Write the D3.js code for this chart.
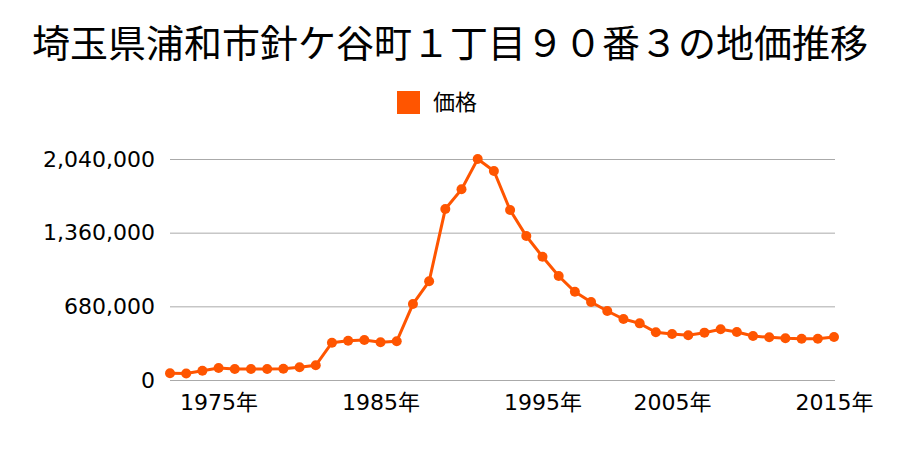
<!DOCTYPE html>
<html><head><meta charset="utf-8">
<script src="https://cdn.jsdelivr.net/npm/d3@7"></script>
<style>body{margin:0;background:#fff;} svg{display:block;}</style>
</head><body>
<svg id="chart" width="900" height="450"></svg>
<script>
const title = "埼玉県浦和市針ケ谷町１丁目９０番３の地価推移";
const seriesName = "価格";
const years = [1972,1973,1974,1975,1976,1977,1978,1979,1980,1981,1982,1983,1984,1985,1986,1987,1988,1989,1990,1991,1992,1993,1994,1995,1996,1997,1998,1999,2000,2001,2002,2005,2006,2007,2008,2009,2010,2011,2012,2013,2014,2015];
const prices = [62000,60000,86000,111000,101000,101000,101000,104000,117000,136000,344000,363000,369000,348000,357000,701000,911000,1578000,1760000,2040000,1929000,1569000,1329000,1138000,960000,815000,720000,637000,563000,523000,440000,425000,413000,437000,468000,443000,406000,394000,385000,381000,381000,397000];
const yTicks = [0,680000,1360000,2040000];
const xLabelYears = [1975,1985,1995,2005,2015];

const color = "#ff5500";
const font = "'Noto Sans CJK JP','Noto Sans',sans-serif";
const numFont = "'DejaVu Sans','Noto Sans CJK JP',sans-serif";
const svg = d3.select("#chart");

const x = d3.scalePoint().domain(years).range([170, 834]);
const y = d3.scaleLinear().domain([0, 2040000]).range([380, 159]);

svg.append("text").attr("x", 450).attr("y", 57).attr("text-anchor","middle")
  .attr("font-family", font).attr("font-size", 38).attr("fill","#000").text(title);

// legend
svg.append("rect").attr("x", 397).attr("y", 91).attr("width", 23).attr("height", 23).attr("fill", color);
svg.append("text").attr("x", 433).attr("y", 110).attr("font-family", font).attr("font-size", 22).attr("fill","#000").text(seriesName);

// y axis gridlines + labels
const yAxis = d3.axisLeft(y).tickValues(yTicks).tickSize(-(835-170)).tickPadding(15)
  .tickFormat(d3.format(","));
const gy = svg.append("g").attr("transform","translate(170,0)").call(yAxis);
gy.select(".domain").remove();
gy.selectAll(".tick line").attr("stroke","#aaa").attr("stroke-width",1);
gy.selectAll(".tick text").attr("font-family", numFont).attr("font-size", 22).attr("fill","#000");

// x axis labels
const xAxis = d3.axisBottom(x).tickValues(xLabelYears).tickSize(0).tickPadding(14).tickFormat(d => d + "年");
const gx = svg.append("g").attr("transform","translate(0,380)").call(xAxis);
gx.select(".domain").remove();
gx.selectAll(".tick text").attr("font-family", numFont).attr("font-size", 22).attr("fill","#000");

// line
const line = d3.line().x((d,i)=>x(years[i])).y(d=>y(d));
svg.append("path").datum(prices).attr("d", line).attr("fill","none").attr("stroke", color).attr("stroke-width", 3);
svg.append("g").selectAll("circle").data(prices).join("circle")
  .attr("cx",(d,i)=>x(years[i])).attr("cy", d=>y(d)).attr("r", 5).attr("fill", color);
</script>
</body></html>
